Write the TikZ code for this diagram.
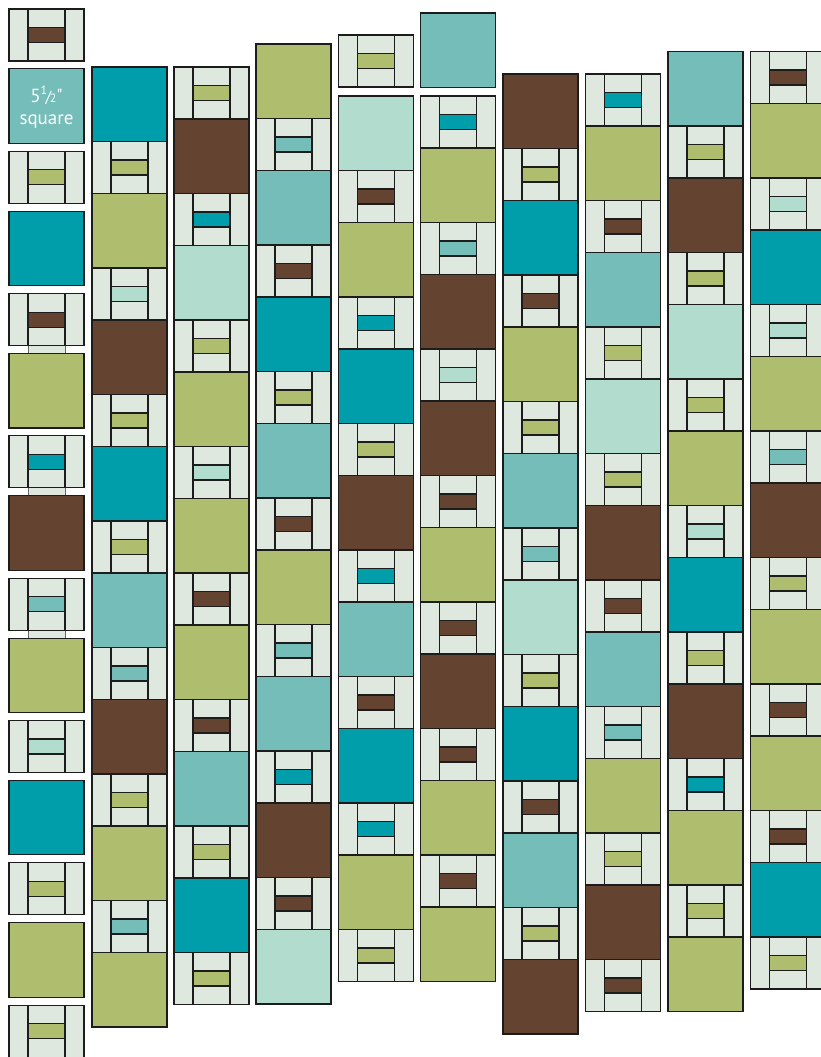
\documentclass[tikz,border=0pt]{standalone}
\usepackage{fontspec}
\setmainfont{PT Sans}[Ligatures=TeXOff]
\usepackage{xcolor}
\usepackage{tikz}

\definecolor{qbg}{HTML}{DEE8DE}
\definecolor{qD}{HTML}{009EAB}
\definecolor{qM}{HTML}{74BDB9}
\definecolor{qL}{HTML}{B2DDCE}
\definecolor{qG}{HTML}{AEBE6E}
\definecolor{qB}{HTML}{654331}
\definecolor{qline}{HTML}{1C1C1C}

\newcommand{\fracsmall}[1]{{\fontsize{12}{12}\selectfont #1}}

\begin{document}
\begin{tikzpicture}[
    x=1pt, y=-1pt,
    patch/.style={draw=qline, line width=1.1pt, fill=#1},
    tail/.style={draw=black!60, line width=0.9pt, fill=qbg},
    sizelabel/.style={text=white, align=center,
      font=\fontsize{19}{22}\selectfont}
]
\useasboundingbox (0,0) rectangle (820,1057);

\foreach \i in {2,3,4}
  \path[tail] (28,{9+\i*142.3+50}) rectangle (65,{9+\i*142.3+60.5});

\foreach \cx/\cy/\per/\cols in {
    9/68.9/142.3/{M,D,G,B,G,D,G},
    92/67/126.5/{D,G,B,D,M,B,G,G},
    174/119/126.5/{B,L,G,G,G,M,D},
    256/44/126.5/{G,M,D,M,G,M,B,L},
    338.5/96/126.5/{L,G,D,B,M,D,G},
    420.5/13/126.5/{M},
    420.5/148/126.5/{G,B,B,G,B,G,G},
    503/74/126.5/{B,D,G,M,L,D,M,B},
    585.5/126/126.5/{G,M,L,B,M,G,B},
    668/51.5/126.5/{M,B,L,G,D,B,G,G},
    750.5/103.5/126.5/{G,D,G,B,G,G,D}}{
  \foreach \c [count=\i from 0] in \cols
    \path[patch=q\c] (\cx,{\cy+\i*\per}) rectangle +(75,74.5);
}

\foreach \cx/\cy/\per/\cols in {
    9/9/142.3/{B,G,B,D,M,L,G,G},
    92/141.5/126.5/{G,L,G,G,M,G,M},
    174/67/126.5/{G,D,G,L,B,B,G,G},
    256/118.5/126.5/{M,B,G,B,M,D,B},
    338.5/35/126.5/{G},
    338.5/170.5/126.5/{B,D,G,D,B,D,G},
    420.5/96/126.5/{D,M,L,B,B,B,B},
    503/148.5/126.5/{G,B,G,M,G,B,G},
    585.5/74/126.5/{D,B,G,G,B,M,G,B},
    668/126/126.5/{G,G,G,L,G,D,G},
    750.5/51.5/126.5/{B,L,L,M,G,B,B,G}}{
  \foreach \c [count=\i from 0] in \cols {
    \path[patch=qbg] (\cx,{\cy+\i*\per}) rectangle +(75,52);
    \path[patch=qbg] ({\cx+19},{\cy+\i*\per}) rectangle +(37,52);
    \path[patch=q\c] ({\cx+19},{\cy+\i*\per+18.5}) rectangle +(37,15);
  }
}

\node[sizelabel] (size) at (46.5,107)
  {5\raisebox{7.5pt}{\fracsmall{1}}\kern-1.5pt{\fontsize{16}{16}\selectfont/}\kern-1.5pt\fracsmall{2}"\\square};

\end{tikzpicture}
\end{document}
